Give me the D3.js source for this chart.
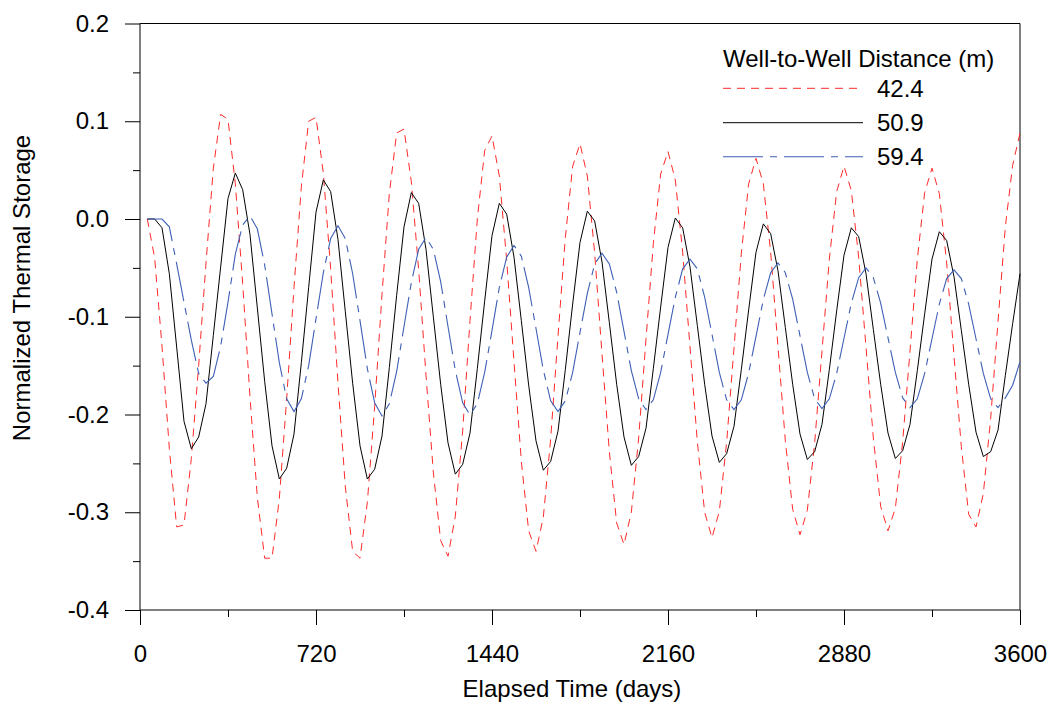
<!DOCTYPE html>
<html>
<head>
<meta charset="utf-8">
<script src="https://cdn.jsdelivr.net/npm/d3@7"></script>
<style>
  body { margin: 0; background: #fff; }
  svg text { font-family: Arial, 'Liberation Sans', sans-serif; fill: #000; }
</style>
</head>
<body>
<svg id="canvas" width="1050" height="704"></svg>
<script>
// elapsed time of each sample (days)
const days = [
  30, 60, 90, 120, 150, 180, 210, 240, 270, 300, 330, 360,
  390, 420, 450, 480, 510, 540, 570, 600, 630, 660, 690, 720,
  750, 780, 810, 840, 870, 900, 930, 960, 990, 1020, 1050, 1080,
  1110, 1140, 1170, 1200, 1230, 1260, 1290, 1320, 1350, 1380, 1410, 1440,
  1470, 1500, 1530, 1560, 1590, 1620, 1650, 1680, 1710, 1740, 1770, 1800,
  1830, 1860, 1890, 1920, 1950, 1980, 2010, 2040, 2070, 2100, 2130, 2160,
  2190, 2220, 2250, 2280, 2310, 2340, 2370, 2400, 2430, 2460, 2490, 2520,
  2550, 2580, 2610, 2640, 2670, 2700, 2730, 2760, 2790, 2820, 2850, 2880,
  2910, 2940, 2970, 3000, 3030, 3060, 3090, 3120, 3150, 3180, 3210, 3240,
  3270, 3300, 3330, 3360, 3390, 3420, 3450, 3480, 3510, 3540, 3570, 3600
];

// 42.4 m
const dist424 = [
  0, -0.04, -0.13, -0.235, -0.315, -0.313, -0.245, -0.15, -0.045, 0.052, 0.107, 0.102,
  0.036, -0.066, -0.182, -0.285, -0.347, -0.347, -0.286, -0.184, -0.070, 0.033, 0.100, 0.104,
  0.047, -0.051, -0.168, -0.274, -0.340, -0.347, -0.290, -0.192, -0.077, 0.026, 0.088, 0.092,
  0.038, -0.052, -0.160, -0.259, -0.329, -0.345, -0.304, -0.217, -0.104, 0.000, 0.070, 0.085,
  0.044, -0.042, -0.146, -0.248, -0.319, -0.340, -0.305, -0.225, -0.120, -0.019, 0.054, 0.077,
  0.044, -0.035, -0.138, -0.238, -0.311, -0.333, -0.300, -0.224, -0.123, -0.025, 0.046, 0.069,
  0.040, -0.034, -0.131, -0.228, -0.300, -0.326, -0.299, -0.228, -0.132, -0.035, 0.036, 0.062,
  0.036, -0.034, -0.131, -0.227, -0.297, -0.323, -0.298, -0.229, -0.135, -0.041, 0.028, 0.054,
  0.029, -0.039, -0.131, -0.224, -0.294, -0.319, -0.296, -0.228, -0.135, -0.041, 0.027, 0.052,
  0.026, -0.045, -0.140, -0.233, -0.302, -0.315, -0.281, -0.204, -0.105, -0.008, 0.055, 0.088
];

// 50.9 m
const dist509 = [
  0, 0, -0.009, -0.056, -0.131, -0.207, -0.235, -0.223, -0.189, -0.119, -0.049, 0.021,
  0.047, 0.030, -0.016, -0.091, -0.166, -0.232, -0.266, -0.255, -0.220, -0.147, -0.070, 0.007,
  0.040, 0.028, -0.021, -0.095, -0.168, -0.232, -0.266, -0.256, -0.222, -0.152, -0.078, -0.008,
  0.027, 0.016, -0.031, -0.100, -0.169, -0.229, -0.261, -0.251, -0.219, -0.153, -0.084, -0.017,
  0.016, 0.005, -0.039, -0.104, -0.170, -0.227, -0.257, -0.248, -0.217, -0.154, -0.087, -0.024,
  0.008, -0.002, -0.044, -0.106, -0.169, -0.223, -0.252, -0.243, -0.214, -0.153, -0.090, -0.029,
  0.001, -0.009, -0.049, -0.109, -0.169, -0.222, -0.249, -0.240, -0.212, -0.154, -0.093, -0.034,
  -0.005, -0.015, -0.053, -0.111, -0.169, -0.220, -0.246, -0.238, -0.210, -0.154, -0.094, -0.037,
  -0.009, -0.018, -0.056, -0.113, -0.169, -0.219, -0.245, -0.237, -0.210, -0.155, -0.097, -0.041,
  -0.013, -0.022, -0.059, -0.114, -0.169, -0.218, -0.243, -0.238, -0.216, -0.160, -0.107, -0.056
];

// 59.4 m
const dist594 = [
  0, 0, 0, -0.008, -0.046, -0.085, -0.124, -0.158, -0.168, -0.161, -0.130, -0.085,
  -0.036, -0.006, 0.003, -0.010, -0.047, -0.097, -0.147, -0.184, -0.197, -0.184, -0.150, -0.102,
  -0.055, -0.020, -0.007, -0.020, -0.056, -0.104, -0.153, -0.188, -0.2015, -0.189, -0.156, -0.110,
  -0.065, -0.031, -0.019, -0.031, -0.064, -0.110, -0.155, -0.188, -0.2005, -0.189, -0.157, -0.114,
  -0.070, -0.039, -0.027, -0.038, -0.070, -0.112, -0.1545, -0.186, -0.197, -0.186, -0.157, -0.116,
  -0.076, -0.046, -0.035, -0.046, -0.075, -0.115, -0.155, -0.184, -0.195, -0.185, -0.157, -0.118,
  -0.080, -0.051, -0.041, -0.051, -0.080, -0.118, -0.157, -0.185, -0.195, -0.185, -0.1575, -0.120,
  -0.0825, -0.055, -0.045, -0.055, -0.082, -0.1195, -0.157, -0.184, -0.194, -0.184, -0.158, -0.122,
  -0.086, -0.060, -0.050, -0.060, -0.086, -0.1215, -0.157, -0.183, -0.193, -0.184, -0.158, -0.1225,
  -0.087, -0.061, -0.052, -0.061, -0.087, -0.1225, -0.158, -0.184, -0.193, -0.183, -0.170, -0.146
];

const seriesNames = ['42.4', '50.9', '59.4'];
const xTicks = [0, 720, 1440, 2160, 2880, 3600];
const xMinorTicks = [360, 1080, 1800, 2520, 3240];
const yTicks = [0.2, 0.1, 0.0, -0.1, -0.2, -0.3, -0.4];
const yMinorTicks = [0.15, 0.05, -0.05, -0.15, -0.25, -0.35];

const canvas = d3.select('#canvas');

const x = d3.scaleLinear().domain([0, 3600]).range([140, 1020]);
const y = d3.scaleLinear().domain([-0.4, 0.2]).range([610, 23.5]);

const styles = [
  { color: '#ff2a2a', dash: '8,6', width: 1 },
  { color: '#000000', dash: null, width: 1 },
  { color: '#3d5fb5', dash: '40,7,7,7', width: 1.1 }
];

// axes
const drawAxes = () => {
  canvas.append('g')
    .attr('transform', `translate(${x(0)},0)`)
    .call(d3.axisLeft(y).tickValues(yTicks).tickSize(15).tickPadding(16)
      .tickFormat(d => d.toFixed(1)));
  canvas.append('g')
    .attr('transform', `translate(${x(0)},0)`)
    .call(d3.axisLeft(y).tickValues(yMinorTicks).tickSize(7).tickFormat(''));

  canvas.append('g')
    .attr('transform', `translate(0,${y(-0.4)})`)
    .call(d3.axisBottom(x).tickValues(xTicks).tickSize(15).tickPadding(20)
      .tickFormat(d3.format('d')));
  canvas.append('g')
    .attr('transform', `translate(0,${y(-0.4)})`)
    .call(d3.axisBottom(x).tickValues(xMinorTicks).tickSize(7).tickFormat(''));

  canvas.selectAll('.domain').remove();
  canvas.selectAll('.tick line').attr('stroke', '#000');
  canvas.selectAll('.tick text').style('font-size', '24px');

  // frame
  const frame = [
    [x(0), y(0.2), x(3600), y(0.2)],
    [x(3600), y(0.2), x(3600), y(-0.4)],
    [x(0), y(-0.4), x(3600), y(-0.4)],
    [x(0), y(0.2), x(0), y(-0.4)]
  ];
  canvas.append('g').selectAll('line')
    .data(frame)
    .enter()
    .append('line')
    .attr('x1', d => d[0]).attr('y1', d => d[1])
    .attr('x2', d => d[2]).attr('y2', d => d[3])
    .attr('stroke', '#000')
    .attr('stroke-width', 1);

  canvas.append('text')
    .attr('x', 572)
    .attr('y', 697)
    .attr('text-anchor', 'middle')
    .style('font-size', '24px')
    .text('Elapsed Time (days)');

  canvas.append('text')
    .attr('transform', 'translate(30,288) rotate(-90)')
    .attr('text-anchor', 'middle')
    .style('font-size', '24px')
    .text('Normalized Thermal Storage');
};

const drawLines = () => {
  const allSeries = [dist424, dist509, dist594];
  const line = d3.line()
    .x((d, i) => x(days[i]))
    .y(d => y(d));

  canvas.append('g').selectAll('path')
    .data(allSeries)
    .enter()
    .append('path')
    .attr('d', d => line(d))
    .attr('fill', 'none')
    .attr('stroke', (d, i) => styles[i].color)
    .attr('stroke-width', (d, i) => styles[i].width)
    .attr('stroke-dasharray', (d, i) => styles[i].dash);
};

const drawLegend = () => {
  const legend = canvas.append('g');
  legend.append('text')
    .attr('x', 723)
    .attr('y', 66.5)
    .style('font-size', '24px')
    .text('Well-to-Well Distance (m)');

  const rowY = [88.3, 122.7, 156.7];
  const entries = legend.selectAll('g.entry')
    .data(seriesNames)
    .enter()
    .append('g')
    .attr('class', 'entry');

  entries.append('line')
    .attr('x1', 723).attr('x2', 863)
    .attr('y1', (d, i) => rowY[i]).attr('y2', (d, i) => rowY[i])
    .attr('stroke', (d, i) => styles[i].color)
    .attr('stroke-width', (d, i) => styles[i].width)
    .attr('stroke-dasharray', (d, i) => styles[i].dash);

  entries.append('text')
    .attr('x', 877)
    .attr('y', (d, i) => rowY[i] + 8.5)
    .style('font-size', '24px')
    .text(d => d);
};

drawAxes();
drawLines();
drawLegend();
</script>
</body>
</html>
